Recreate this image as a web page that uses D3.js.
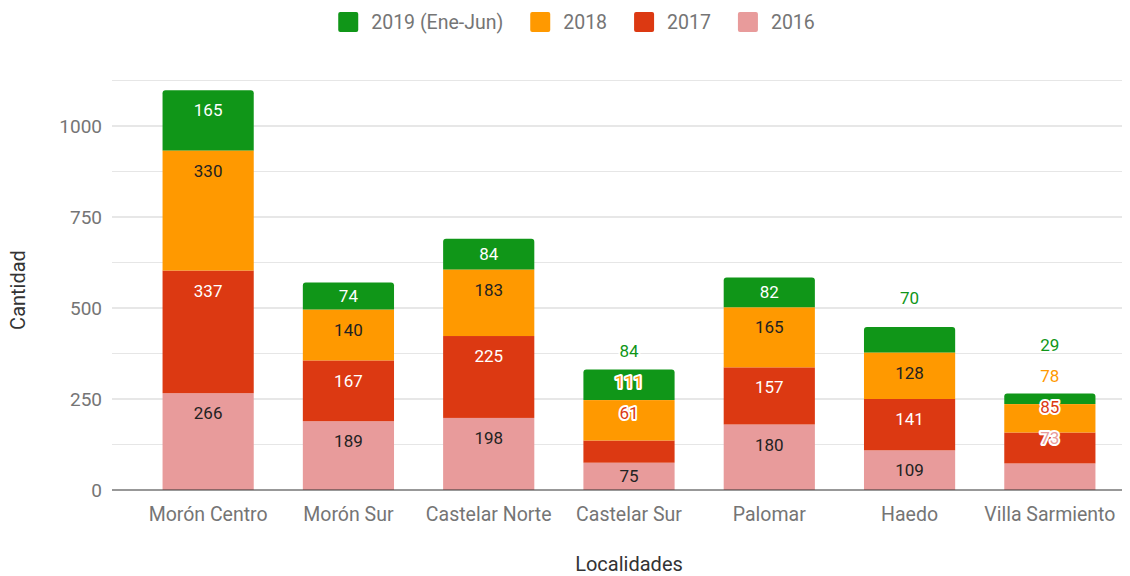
<!DOCTYPE html>
<html>
<head>
<meta charset="utf-8">
<script src="https://cdn.jsdelivr.net/npm/d3@7/dist/d3.min.js"></script>
<style>
    body{ margin:0; background:#fff; }
    svg text{ font-family: Roboto, "Noto Sans", sans-serif; }
</style>
</head>
<body>
<svg id="chart" width="1130" height="576"></svg>
<script>
// datos
var localidades = ["Morón Centro", "Morón Sur", "Castelar Norte", "Castelar Sur", "Palomar", "Haedo", "Villa Sarmiento"];
var v2016 = [266, 189, 198, 75, 180, 109, 73];
var v2017 = [337, 167, 225, 61, 157, 141, 85];
var v2018 = [330, 140, 183, 111, 165, 128, 78];
var v2019 = [165, 74, 84, 84, 82, 70, 29];
var seriesKeys = ["2016", "2017", "2018", "2019 (Ene-Jun)"];   // de abajo hacia arriba
var legendOrder = ["2019 (Ene-Jun)", "2018", "2017", "2016"];
var yTicks = [0, 250, 500, 750, 1000];
var yMax = 1125;

var colors = {"2016": "#e89b9b", "2017": "#dc3912", "2018": "#ff9900", "2019 (Ene-Jun)": "#109618"};
var insideText = {"2016": "#222", "2017": "#fff", "2018": "#222", "2019 (Ene-Jun)": "#fff"};

(function(){
    var rows = localidades.map(function(name, i){
        return {name: name, "2016": v2016[i], "2017": v2017[i], "2018": v2018[i], "2019 (Ene-Jun)": v2019[i]};
    });

    var svg = d3.select("#chart");
    var plotLeft = 112, plotRight = 1122, plotTop = 80.5, plotBottom = 490;

    var x = d3.scaleBand().domain(localidades).range([138, 1120]).paddingInner(0.35).paddingOuter(0.175);
    var y = d3.scaleLinear().domain([0, yMax]).range([plotBottom, plotTop]);

    // grid
    var gridVals = d3.range(125, yMax + 1, 125);
    svg.append("g").selectAll("line").data(gridVals).enter().append("line")
        .attr("x1", plotLeft).attr("x2", plotRight)
        .attr("y1", function(d){ return y(d); }).attr("y2", function(d){ return y(d); })
        .style("stroke", function(d){ return d % 250 == 0 ? "#cfcfcf" : "#e6e6e6"; })
        .style("stroke-width", 1);

    // y tick labels
    svg.append("g").selectAll("text").data(yTicks).enter().append("text")
        .attr("x", 102).attr("y", function(d){ return y(d); })
        .attr("dy", "0.35em").attr("text-anchor", "end")
        .style("font-size", "19px").style("fill", "#757575")
        .text(function(d){ return d; });

    // bars
    var stack = d3.stack().keys(seriesKeys)(rows);

    function roundedTop(x0, y0, w, h, r){
        r = Math.min(r, h);
        return "M" + x0 + "," + (y0 + h) + "V" + (y0 + r) + "Q" + x0 + "," + y0 + " " + (x0 + r) + "," + y0 +
            "H" + (x0 + w - r) + "Q" + (x0 + w) + "," + y0 + " " + (x0 + w) + "," + (y0 + r) + "V" + (y0 + h) + "Z";
    }

    var barG = svg.append("g");
    stack.forEach(function(layer, li){
        var isTop = li == stack.length - 1;
        layer.forEach(function(d){
            var x0 = x(d.data.name), y0 = y(d[1]), h = y(d[0]) - y(d[1]);
            if(isTop){
                barG.append("path").attr("d", roundedTop(x0, y0, x.bandwidth(), h, 3)).style("fill", colors[layer.key]);
            }else{
                barG.append("rect").attr("x", x0).attr("y", y0).attr("width", x.bandwidth()).attr("height", h)
                    .style("fill", colors[layer.key]);
            }
        });
    });

    // baseline
    svg.append("line").attr("x1", plotLeft).attr("x2", plotRight).attr("y1", y(0)).attr("y2", y(0))
        .style("stroke", "#333").style("stroke-width", 1.2);

    // etiquetas de valores: se acomodan para que no se pisen
    var gap = 31, minFit = 26.75;
    var labelG = svg.append("g");
    rows.forEach(function(row, bi){
        var barTop = y(stack[stack.length - 1][bi][1]);
        var outside = 0;
        var labels = stack.map(function(layer, i){
            var seg = layer[bi];
            var t = y(seg[1]), h = y(seg[0]) - t;
            var fits = h >= minFit;
            var want = fits ? t + Math.min(20, h / 2) : barTop - 29 - gap * (outside++);
            return {key: layer.key, value: seg.data[layer.key], fits: fits, want: want, r: want + gap * i};
        });
        // regresion isotonica (r no creciente)
        var blocks = [];
        function mean(b){ return b.sum / b.n; }
        labels.forEach(function(l, i){
            blocks.push({sum: l.r, n: 1, idx: [i], loose: !l.fits});
            while(blocks.length > 1){
                var a = blocks[blocks.length - 2], b = blocks[blocks.length - 1];
                // se juntan si se pisan, o si un bloque desplazado queda casi pegado
                var near = (a.loose || a.n > 1 || b.loose || b.n > 1) && (mean(a) - mean(b)) < gap * 0.5;
                if(mean(a) < mean(b) || near){
                    a.sum += b.sum; a.n += b.n; a.idx = a.idx.concat(b.idx); a.loose = a.loose || b.loose;
                    blocks.pop();
                }else break;
            }
        });
        blocks.forEach(function(b){
            b.idx.forEach(function(i){ labels[i].pos = mean(b) - gap * i; });
        });
        labels.forEach(function(l){
            var moved = !l.fits || Math.abs(l.pos - l.want) > 0.5;
            var t = labelG.append("text")
                .attr("x", x(row.name) + x.bandwidth() / 2)
                .attr("y", l.pos).attr("dy", "0.36em")
                .attr("text-anchor", "middle")
                .style("font-size", "17px")
                .text(l.value);
            if(moved){
                t.style("fill", colors[l.key]).style("stroke", "#fff").style("stroke-width", 4)
                    .style("stroke-linejoin", "round").style("paint-order", "stroke");
            }else{
                t.style("fill", insideText[l.key]);
            }
        });
    });

    // x labels
    svg.append("g").selectAll("text").data(localidades).enter().append("text")
        .attr("x", function(d){ return x(d) + x.bandwidth() / 2; })
        .attr("y", 514).attr("dy", "0.35em").attr("text-anchor", "middle")
        .style("font-size", "19.5px").style("fill", "#757575")
        .text(function(d){ return d; });

    // titulos de ejes
    svg.append("text").attr("x", 629).attr("y", 564).attr("dy", "0.35em").attr("text-anchor", "middle")
        .style("font-size", "20px").style("fill", "#333").text("Localidades");
    svg.append("text").attr("transform", "translate(18,290) rotate(-90)").attr("dy", "0.35em")
        .attr("text-anchor", "middle").style("font-size", "20px").style("fill", "#333").text("Cantidad");

    // leyenda
    var legend = svg.append("g");
    var lx = 0;
    legendOrder.forEach(function(k){
        var g = legend.append("g").attr("transform", "translate(" + lx + ",0)");
        g.append("rect").attr("x", 0).attr("y", 12).attr("width", 20).attr("height", 20).attr("rx", 2)
            .style("fill", colors[k]);
        var t = g.append("text").attr("x", 33).attr("y", 22).attr("dy", "0.35em")
            .style("font-size", "19.5px").style("fill", "#757575").text(k);
        lx += 33 + t.node().getComputedTextLength() + 27;
    });
    var legendW = lx - 27;
    legend.attr("transform", "translate(" + (576.5 - legendW / 2) + ",0)");
})();
</script>
</body>
</html>
